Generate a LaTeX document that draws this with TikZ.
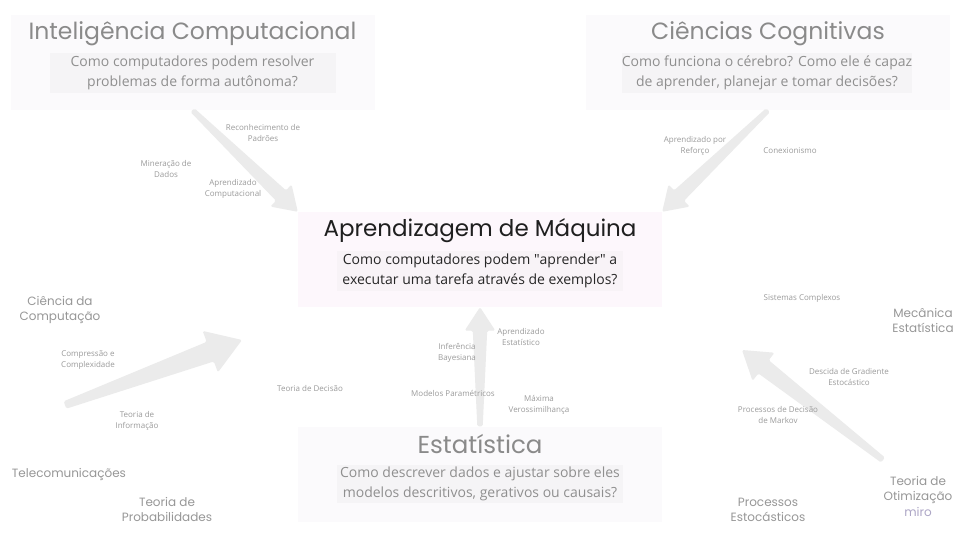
\documentclass[tikz,border=0pt]{standalone}
\usepackage{fontspec}
\setmainfont{Open Sans}
\newfontfamily\titlefont{Poppins}
\usetikzlibrary{calc}

\definecolor{boxfill}{HTML}{FBFAFC}
\definecolor{qfill}{HTML}{F5F4F6}
\definecolor{mlfill}{HTML}{FDF7FC}
\definecolor{mlqfill}{HTML}{F8F3F7}
\definecolor{arrowgray}{HTML}{EBEBEB}
\definecolor{titlegray}{HTML}{8A8A8A}
\definecolor{qgray}{HTML}{8F8F8F}
\definecolor{labelgray}{HTML}{9B9B9B}
\definecolor{fieldgray}{HTML}{979797}
\definecolor{mirocol}{HTML}{ADA6C6}

% wide tapered arrow: [scale]{from}{to}
\newcommand\bigarrow[3][1]{%
  \coordinate (hb) at ($(#3)!#1*26pt!(#2)$);
  \fill[arrowfill] ($(#2)!#1*3pt!90:(#3)$) -- ($(hb)!#1*8pt!90:(#3)$)
    -- ($(hb)!#1*17pt!90:(#3)$) -- (#3) -- ($(hb)!#1*17pt!-90:(#3)$)
    -- ($(hb)!#1*8pt!-90:(#3)$) -- ($(#2)!#1*3pt!-90:(#3)$) -- cycle;}

\begin{document}
\begin{tikzpicture}[x=1pt,y=-1pt,
    areabox/.style={fill=boxfill,minimum width=364pt,minimum height=95pt,inner sep=0},
    qbox/.style={fill=qfill,minimum width=286pt,minimum height=40pt,inner sep=0,
      align=center,text=qgray,font=\fontsize{14}{20}\selectfont},
    areatitle/.style={text=titlegray,font=\titlefont\fontsize{23.5}{26}\selectfont},
    field/.style={text=fieldgray,align=center,font=\titlefont\fontsize{12}{15}\selectfont},
    topic/.style={text=labelgray,align=center,font=\fontsize{8}{11.5}\selectfont},
    arrowfill/.style={fill=arrowgray,rounded corners=1.5pt}]
  \useasboundingbox (0,0) rectangle (960,540);
  \fill[white] (0,0) rectangle (960,540);

  % areas
  \node[areabox] (ic) at (192.5,62.5) {};
  \node[areatitle] (ict) at (192.5,34) {Inteligência Computacional};
  \node[qbox] (icq) at (192.5,73) {Como computadores podem resolver\\problemas de forma autônoma?};

  \node[areabox] (cc) at (768,62.5) {};
  \node[areatitle] (cct) at (768,34) {Ciências Cognitivas};
  \node[qbox] (ccq) at (767,73) {Como funciona o cérebro? Como ele é capaz\\de aprender, planejar e tomar decisões?};

  \node[areabox,fill=mlfill] (ml) at (480,259.5) {};
  \node[areatitle,text=black!88,font=\titlefont\fontsize{23}{26}\selectfont] (mlt) at (480,231) {Aprendizagem de Máquina};
  \node[qbox,fill=mlqfill,text=black!85] (mlq) at (480,271) {Como computadores podem \textquotedbl aprender\textquotedbl{} a\\executar uma tarefa através de exemplos?};

  \node[areabox] (est) at (480,474) {};
  \node[areatitle,font=\titlefont\fontsize{24.5}{27}\selectfont] (estt) at (480,444) {Estatística};
  \node[qbox,minimum height=38pt] (estq) at (480,484) {Como descrever dados e ajustar sobre eles\\modelos descritivos, gerativos ou causais?};

  % arrows
  \coordinate (csA) at (65,405);
  \coordinate (csB) at (242,340);
  \coordinate (otA) at (883,460);
  \coordinate (otB) at (742,350);
  \bigarrow[0.9]{ic.south}{ml.north west}
  \bigarrow[0.9]{cc.south}{ml.north east}
  \bigarrow[0.9]{est.north}{ml.south}
  \bigarrow[1.3]{csA}{csB}
  \bigarrow[1.05]{otA}{otB}

  % fields
  \node[field] (cs) at (60,310) {Ciência da\\Computação};
  \node[field] (tel) at (69,474) {Telecomunicações};
  \node[field] (prob) at (167,509) {Teoria de\\Probabilidades};
  \node[field] (mec) at (923,320) {Mecânica\\Estatística};
  \node[field] (pe) at (768,510) {Processos\\Estocásticos};
  \node[field] (ot) at (918,490) {Teoria de\\Otimização};
  \node[field,text=mirocol] (miro) at (918,512) {miro};

  % topics
  \node[topic] (rp) at (263,133) {Reconhecimento de\\Padrões};
  \node[topic] (md) at (166,169) {Mineração de\\Dados};
  \node[topic] (ac) at (233,189) {Aprendizado\\Computacional};
  \node[topic] (ar) at (695,146) {Aprendizado por\\Reforço};
  \node[topic] (cx) at (790,151) {Conexionismo};
  \node[topic] (ae) at (521,337) {Aprendizado\\Estatístico};
  \node[topic] (ib) at (457,353) {Inferência\\Bayesiana};
  \node[topic] (td) at (310,388) {Teoria de Decisão};
  \node[topic] (mp) at (453,393) {Modelos Paramétricos};
  \node[topic] (mv) at (539,405) {Máxima\\Verossimilhança};
  \node[topic] (cpx) at (88,360) {Compressão e\\Complexidade};
  \node[topic] (ti) at (137,421) {Teoria de\\Informação};
  \node[topic] (sc) at (802,298) {Sistemas Complexos};
  \node[topic] (dg) at (849,377) {Descida de Gradiente\\Estocástico};
  \node[topic] (pd) at (778,415) {Processos de Decisão\\de Markov};
\end{tikzpicture}
\end{document}
